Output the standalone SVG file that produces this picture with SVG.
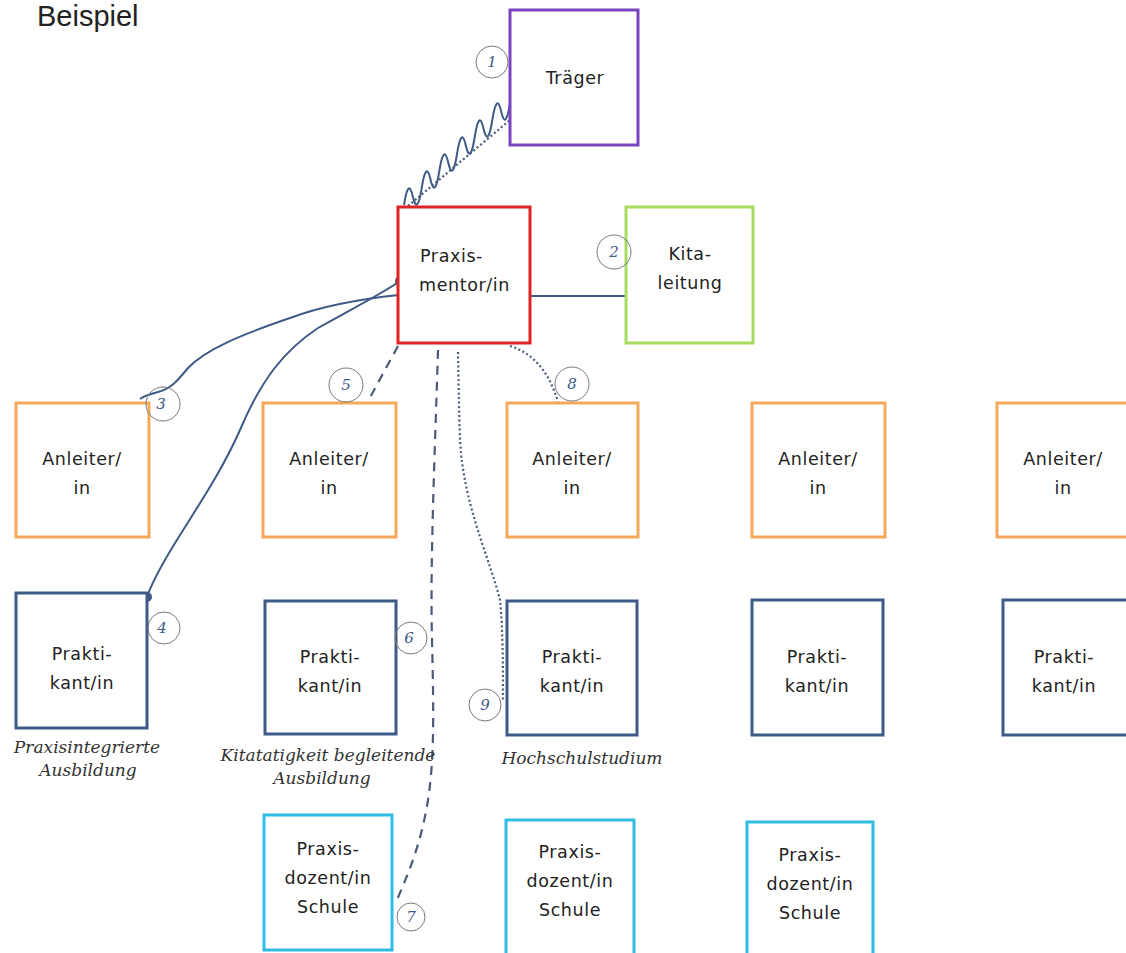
<svg xmlns="http://www.w3.org/2000/svg" width="1126" height="953" viewBox="0 0 1126 953">
<style>
.box{fill:#fff;stroke-width:3}
.traeger{stroke:#7b44bf}
.mentor{stroke:#e02222}
.kita{stroke:#a6dc5e}
.anl{stroke:#f4a85a}
.prak{stroke:#3e5b88}
.doz{stroke:#2fbde3}
.lbl{font-family:"DejaVu Sans",sans-serif;font-size:17.5px;letter-spacing:0.6px;fill:#222;text-anchor:middle}
.hand{font-family:"DejaVu Serif",serif;font-style:italic;font-size:17px;fill:#333;text-anchor:middle}
.num{fill:none;stroke:#7a7a7a;stroke-width:1}
.numt{font-family:"DejaVu Serif",serif;font-style:italic;font-size:15px;fill:#3e5b88;text-anchor:middle}
.conn{fill:none;stroke:#3e5b88;stroke-width:2}
.dash{fill:none;stroke:#4a5a78;stroke-width:2.2;stroke-dasharray:9 7}
.dot{fill:none;stroke:#4a5a78;stroke-width:2.2;stroke-dasharray:2 2.5}
</style>
<rect width="1126" height="953" fill="#fff"/>
<text x="37" y="26" font-family="Liberation Sans, sans-serif" font-size="29" fill="#222">Beispiel</text>
<g id="connectors">
<path class="conn" d="M404,205 Q408.4,176.75 412.8,196.5 Q417.3,216.25 421.7,188 Q426.1,159.75 430.5,179.5 Q434.9,199.25 439.3,171 Q443.8,142.75 448.2,162.5 Q452.6,182.25 457,154 Q461.4,125.75 465.8,145.5 Q470.3,165.25 474.7,137 Q479.1,108.75 483.5,128.5 Q487.9,148.25 492.3,120 Q496.8,91.75 501.2,111.5 Q505.6,131.25 510,103"/>
<path class="dot" d="M408,206 L510,120"/>
<path class="conn" d="M530,296 L626,296"/>
<path class="conn" d="M399,295 C370,298 330,303 290,318 C240,335 205,350 188,368 C178,380 172,388 158,392 C150,394 144,396 140,399"/>
<path class="conn" d="M400,281 C385,292 350,310 318,328 C285,350 262,378 240,430 C220,475 195,510 172,548 C160,568 152,582 147,597"/>
<circle cx="400" cy="281" r="5" fill="#3e5b88"/>
<circle cx="147" cy="597" r="5" fill="#3e5b88"/>
<path class="dash" d="M398,346 L367,403"/>
<path class="dash" d="M438,350 C435,450 430,560 432,640 C434,720 434,760 428,800 C420,850 405,880 397,900"/>
<path class="dot" d="M510,346 C530,352 548,368 558,402"/>
<path class="dot" d="M458,352 C459,400 459,440 462,462 C470,520 490,560 500,600 C503,630 503,670 503,700"/>
</g>
<g id="traeger"><rect class="box traeger" x="510" y="10" width="128" height="135"/><text class="lbl" x="575" y="84">Träger</text></g>
<g id="praxismentor"><rect class="box mentor" x="398" y="207" width="132" height="136"/><text class="lbl" x="420" y="262" style="text-anchor:start">Praxis-</text><text class="lbl" x="419" y="291" style="text-anchor:start">mentor/in</text></g>
<g id="kitaleitung"><rect class="box kita" x="626" y="207" width="127" height="136"/><text class="lbl" x="690" y="260">Kita-</text><text class="lbl" x="690" y="289">leitung</text></g>
<g id="anleiter1"><rect class="box anl" x="16" y="403" width="133" height="134"/><text class="lbl" x="82" y="465">Anleiter/</text><text class="lbl" x="82" y="494">in</text></g>
<g id="anleiter2"><rect class="box anl" x="263" y="403" width="133" height="134"/><text class="lbl" x="329" y="465">Anleiter/</text><text class="lbl" x="329" y="494">in</text></g>
<g id="anleiter3"><rect class="box anl" x="507" y="403" width="131" height="134"/><text class="lbl" x="572" y="465">Anleiter/</text><text class="lbl" x="572" y="494">in</text></g>
<g id="anleiter4"><rect class="box anl" x="752" y="403" width="133" height="134"/><text class="lbl" x="818" y="465">Anleiter/</text><text class="lbl" x="818" y="494">in</text></g>
<g id="anleiter5"><rect class="box anl" x="997" y="403" width="133" height="134"/><text class="lbl" x="1063" y="465">Anleiter/</text><text class="lbl" x="1063" y="494">in</text></g>
<g id="praktikant1"><rect class="box prak" x="16" y="593" width="131" height="135"/><text class="lbl" x="82" y="660">Prakti-</text><text class="lbl" x="82" y="689">kant/in</text></g>
<g id="praktikant2"><rect class="box prak" x="265" y="601" width="131" height="133"/><text class="lbl" x="330" y="663">Prakti-</text><text class="lbl" x="330" y="692">kant/in</text></g>
<g id="praktikant3"><rect class="box prak" x="507" y="601" width="130" height="134"/><text class="lbl" x="572" y="663">Prakti-</text><text class="lbl" x="572" y="692">kant/in</text></g>
<g id="praktikant4"><rect class="box prak" x="752" y="600" width="131" height="135"/><text class="lbl" x="817" y="663">Prakti-</text><text class="lbl" x="817" y="692">kant/in</text></g>
<g id="praktikant5"><rect class="box prak" x="1003" y="600" width="131" height="135"/><text class="lbl" x="1064" y="663">Prakti-</text><text class="lbl" x="1064" y="692">kant/in</text></g>
<g id="dozent1"><rect class="box doz" x="264" y="815" width="128" height="135"/><text class="lbl" x="328" y="855">Praxis-</text><text class="lbl" x="328" y="884">dozent/in</text><text class="lbl" x="328" y="913">Schule</text></g>
<g id="dozent2"><rect class="box doz" x="506" y="820" width="128" height="136"/><text class="lbl" x="570" y="858">Praxis-</text><text class="lbl" x="570" y="887">dozent/in</text><text class="lbl" x="570" y="916">Schule</text></g>
<g id="dozent3"><rect class="box doz" x="747" y="822" width="126" height="136"/><text class="lbl" x="810" y="861">Praxis-</text><text class="lbl" x="810" y="890">dozent/in</text><text class="lbl" x="810" y="919">Schule</text></g>
<g id="labels">
<text class="hand" x="87" y="753">Praxisintegrierte</text>
<text class="hand" x="88" y="776">Ausbildung</text>
<text class="hand" x="328" y="761">Kitatatigkeit begleitende</text>
<text class="hand" x="322" y="784">Ausbildung</text>
<text class="hand" x="582" y="764">Hochschulstudium</text>
</g>
<g id="numbers">
<circle class="num" cx="492" cy="62" r="16"/><text class="numt" x="492" y="67">1</text>
<circle class="num" cx="614" cy="252" r="17"/><text class="numt" x="614" y="257">2</text>
<circle class="num" cx="163" cy="404" r="17"/><text class="numt" x="161" y="409">3</text>
<circle class="num" cx="164" cy="628" r="16"/><text class="numt" x="162" y="633">4</text>
<circle class="num" cx="346" cy="385" r="17"/><text class="numt" x="346" y="390">5</text>
<circle class="num" cx="411" cy="638" r="16"/><text class="numt" x="409" y="643">6</text>
<circle class="num" cx="411" cy="917" r="14"/><text class="numt" x="411" y="922">7</text>
<circle class="num" cx="572" cy="384" r="17"/><text class="numt" x="572" y="389">8</text>
<circle class="num" cx="485" cy="705" r="16"/><text class="numt" x="485" y="710">9</text>
</g>
</svg>
